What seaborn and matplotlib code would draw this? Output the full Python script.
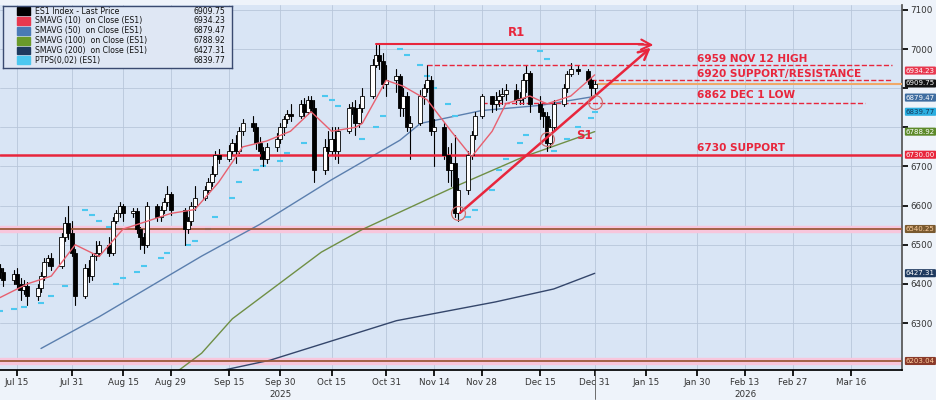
import matplotlib
matplotlib.use("Agg")
import matplotlib.pyplot as plt
import matplotlib.dates as mdates
from matplotlib.patches import Rectangle
import seaborn as sns
import pandas as pd

dates = (["2025-07-%02d" % d for d in [10,11,14,15,16,17,18,21,22,23,24,25,28,29,30,31]] +
         ["2025-08-%02d" % d for d in [1,4,5,6,7,8,11,12,13,14,15,18,19,20,21,22,25,26,27,28,29]] +
         ["2025-09-%02d" % d for d in [2,3,4,5,8,9,10,11,12,15,16,17,18,19,22,23,24,25,26,29,30]] +
         ["2025-10-%02d" % d for d in [1,2,3,6,7,8,9,10,13,14,15,16,17,20,21,22,23,24,27,28,29,30,31]] +
         ["2025-11-%02d" % d for d in [3,4,5,6,7,10,11,12,13,14,17,18,19,20,21,24,25,26,28]] +
         ["2025-12-%02d" % d for d in [1,2,3,4,5,8,9,10,11,12,15,16,17,18,19,22,23,24,26,29,30,31]])
first_open = 6440
close = [6430,6410,6425,6400,6385,6395,6370,6390,6420,6455,6465,6445,6520,6555,6530,6480,
         6370,6440,6420,6470,6480,6500,6480,6560,6580,6600,6580,6585,6540,6520,6500,6600,6570,6590,6610,6630,6590,
         6540,6560,6600,6620,6640,6660,6680,6730,6720,6740,6760,6740,6790,6810,6800,6760,6740,6720,6750,6770,6800,
         6820,6835,6830,6860,6840,6870,6850,6690,6750,6740,6770,6740,6790,6850,6850,6810,6850,6880,6960,6985,6970,6910,6920,
         6930,6850,6880,6800,6810,6880,6900,6920,6790,6800,6730,6690,6710,6580,6640,6730,6780,6830,6880,
         6860,6870,6880,6885,6895,6870,6875,6920,6940,6860,6840,6830,6760,6800,6860,6900,6935,6950,6945,6920,6900,6910]
high = [6450,6440,6435,6440,6415,6410,6405,6400,6430,6465,6475,6480,6530,6570,6600,6560,
        6490,6450,6460,6480,6510,6510,6520,6570,6590,6610,6605,6595,6595,6545,6530,6610,6605,6600,6620,6650,6635,
        6595,6570,6610,6650,6650,6670,6700,6740,6745,6755,6770,6780,6800,6820,6830,6810,6775,6750,6760,6785,6810,
        6830,6845,6860,6870,6875,6880,6880,6870,6770,6790,6800,6800,6800,6860,6865,6870,6860,6900,6975,7010,7015,6990,6960,
        6950,6935,6900,6890,6830,6895,6910,6960,6930,6820,6810,6750,6760,6780,6670,6740,6790,6840,6885,
        6880,6890,6895,6900,6910,6910,6890,6935,6960,6945,6880,6850,6840,6820,6870,6910,6945,6965,6960,6950,6925,6920]
low = [6415,6395,6400,6390,6360,6375,6345,6360,6380,6410,6445,6435,6440,6510,6515,6470,
       6345,6365,6405,6410,6460,6470,6470,6475,6555,6570,6560,6570,6530,6490,6480,6495,6560,6560,6580,6600,6575,
       6500,6530,6550,6590,6615,6630,6650,6675,6710,6715,6730,6710,6735,6780,6790,6745,6720,6700,6710,6740,6760,
       6780,6810,6815,6825,6830,6835,6840,6660,6680,6690,6730,6720,6710,6785,6835,6780,6800,6840,6875,6955,6950,6900,6880,
       6890,6830,6830,6790,6720,6805,6860,6890,6780,6700,6720,6660,6650,6570,6560,6630,6720,6770,6825,
       6840,6845,6855,6860,6870,6860,6860,6860,6890,6840,6820,6800,6740,6750,6790,6855,6890,6930,6935,6910,6880,6880]

sma10_dates = ["2025-07-10","2025-07-18","2025-07-25","2025-08-01","2025-08-08","2025-08-15","2025-08-22","2025-08-29",
               "2025-09-05","2025-09-12","2025-09-19","2025-09-26","2025-10-03","2025-10-09","2025-10-15","2025-10-22",
               "2025-10-24","2025-10-31","2025-11-05","2025-11-12","2025-11-19","2025-11-25","2025-12-01","2025-12-05",
               "2025-12-12","2025-12-17","2025-12-24","2025-12-31"]
sma10 = [6365,6400,6420,6500,6470,6540,6560,6580,6590,6660,6750,6765,6790,6840,6790,6800,
         6810,6920,6905,6870,6790,6725,6790,6860,6880,6860,6880,6934]
sma50_dates = ["2025-07-22","2025-08-08","2025-09-07","2025-09-24","2025-10-15","2025-11-04","2025-11-10","2025-11-28","2025-12-15","2025-12-31"]
sma50 = [6235,6316,6471,6552,6666,6767,6810,6843,6856,6879]
sma100_dates = ["2025-08-29","2025-09-07","2025-09-16","2025-10-12","2025-10-24","2025-11-20","2025-12-10","2025-12-31"]
sma100 = [6164,6223,6311,6481,6539,6648,6724,6789]
sma200_dates = ["2025-09-05","2025-09-27","2025-11-03","2025-12-02","2025-12-19","2025-12-31"]
sma200 = [6164,6205,6306,6354,6387,6427]
ptps_dates = ["2025-07-10","2025-07-14","2025-07-17","2025-07-22","2025-07-25","2025-07-29",
              "2025-08-04","2025-08-06","2025-08-08","2025-08-11",
              "2025-08-13","2025-08-15","2025-08-19","2025-08-21","2025-08-26","2025-08-28",
              "2025-09-03","2025-09-05","2025-09-09","2025-09-11","2025-09-16","2025-09-18","2025-09-23","2025-09-25","2025-09-30","2025-10-02","2025-10-07",
              "2025-10-13","2025-10-15","2025-10-17","2025-10-21",
              "2025-10-24","2025-10-28","2025-10-30",
              "2025-11-04","2025-11-06","2025-11-10","2025-11-12","2025-11-14","2025-11-18","2025-11-20",
              "2025-11-24","2025-11-26","2025-12-01","2025-12-03","2025-12-05","2025-12-09","2025-12-11",
              "2025-12-15","2025-12-17",
              "2025-12-19","2025-12-23","2025-12-26","2025-12-30","2025-12-31"]
ptps = [6330,6335,6340,6350,6370,6395,
        6590,6575,6560,6545,
        6400,6415,6430,6445,6465,6480,
        6500,6510,6540,6570,6620,6660,6690,6700,6715,6735,6760,
        6880,6870,6855,6840,
        6770,6800,6830,
        7000,6985,6960,6930,6900,6860,6830,
        6570,6590,6640,6690,6720,6760,6780,
        6995,6975,
        6740,6770,6800,6825,6840]

level_labels = ["6959 NOV 12 HIGH", "6920 SUPPORT/RESISTANCE", "6862 DEC 1 LOW", "6730 SUPPORT"]
legend_names = ["ES1 Index - Last Price", "SMAVG (10)  on Close (ES1)", "SMAVG (50)  on Close (ES1)",
                "SMAVG (100)  on Close (ES1)", "SMAVG (200)  on Close (ES1)", "PTPS(0,02) (ES1)"]
legend_vals = ["6909.75", "6934.23", "6879.47", "6788.92", "6427.31", "6839.77"]
legend_cols = ["#000000", "#e8384f", "#4a7ab5", "#6a9a2a", "#1f3a5f", "#4cc8f0"]

sns.set_theme(style="whitegrid")
plt.rcParams['font.family'] = ['DejaVu Sans']

fig = plt.figure(figsize=(9.36, 4.0), dpi=100)
fig.patch.set_facecolor("#eef3fa")
ax = fig.add_axes([0.0, 0.075, 0.964, 0.912])
ax.set_facecolor("#d9e5f5")
ax.grid(True, color="#b8c6da", lw=0.6)

d = pd.to_datetime(dates)
dn = mdates.date2num(d)
opens = [first_open] + close[:-1]
for x, o, c, h, l in zip(dn, opens, close, high, low):
    ax.plot([x, x], [l, h], color="black", lw=0.8, zorder=3)
    col = "white" if c >= o else "black"
    ax.add_patch(Rectangle((x - 0.6, min(o, c)), 1.2, max(abs(c - o), 2), facecolor=col,
                           edgecolor="black", lw=0.6, zorder=4))

sns.lineplot(x=pd.to_datetime(sma10_dates), y=sma10, ax=ax, color="#e8606f", lw=1.0, zorder=5)
sns.lineplot(x=pd.to_datetime(sma50_dates), y=sma50, ax=ax, color="#5b7fae", lw=1.0, zorder=2)
sns.lineplot(x=pd.to_datetime(sma100_dates), y=sma100, ax=ax, color="#6f8f45", lw=1.0, zorder=2)
sns.lineplot(x=pd.to_datetime(sma200_dates), y=sma200, ax=ax, color="#34466b", lw=1.0, zorder=2)
ax.scatter(pd.to_datetime(ptps_dates), ptps, marker="_", s=25, color="#4cc8f0", lw=1.5, zorder=2)
ax.set_xlabel("")
ax.set_ylabel("")

red = "#e8263c"
ax.axhline(6730, color=red, lw=1.8, zorder=3)
for lv in [6540.25, 6203.04]:
    ax.axhspan(lv - 8, lv + 8, color="#f8c6dc", zorder=1)
    ax.axhline(lv, color="#9b5a3a", lw=1.3, zorder=3)

def dt(s):
    return mdates.date2num(pd.Timestamp(s))

ax.plot([dt("2025-11-12"), dt("2026-03-28")], [6959, 6959], ls="--", color=red, lw=1.0, zorder=3)
ax.plot([dt("2025-12-30"), dt("2026-03-28")], [6920, 6920], ls="--", color=red, lw=1.0, zorder=3)
ax.plot([dt("2025-11-28"), dt("2026-03-20")], [6862, 6862], ls="--", color=red, lw=1.0, zorder=3)
ax.plot([dt("2026-01-01"), dt("2026-03-31")], [6909.75, 6909.75], color="#f0a868", lw=1.5, zorder=3)

ax.plot([dt("2025-10-28"), dt("2026-01-14")], [7013, 7013], color=red, lw=1.5, zorder=6)
ax.annotate("", xy=(dt("2026-01-18"), 7010), xytext=(dt("2026-01-12"), 7012),
            arrowprops=dict(arrowstyle="->", color=red, lw=1.5, mutation_scale=18), zorder=6)
ax.annotate("", xy=(dt("2026-01-17"), 7008), xytext=(dt("2025-11-21"), 6577),
            arrowprops=dict(arrowstyle="->", color=red, lw=1.8, mutation_scale=18), zorder=6)
ax.text(dt("2025-12-08"), 7025, "R1", color=red, fontsize=8.5, fontweight="bold", ha="center", va="bottom")
ax.text(dt("2025-12-28"), 6780, "S1", color=red, fontsize=8.5, fontweight="bold", ha="center", va="center")
for sd, sv in [("2025-11-21", 6580), ("2025-12-17", 6770), ("2025-12-31", 6865)]:
    ax.plot(dt(sd), sv, marker="o", ms=10, mfc="none", mec="#d07070", mew=0.9, zorder=6)

tx = dt("2026-01-30")
ax.text(tx, 6975, level_labels[0], color=red, fontsize=7.6, fontweight="bold", va="center")
ax.text(tx, 6935, level_labels[1], color=red, fontsize=7.6, fontweight="bold", va="center")
ax.text(tx, 6882, level_labels[2], color=red, fontsize=7.6, fontweight="bold", va="center")
ax.text(tx, 6747, level_labels[3], color=red, fontsize=7.6, fontweight="bold", va="center")

ax.set_xlim(dt("2025-07-10"), dt("2026-03-31"))
ax.set_ylim(6180, 7112)

ticks = ["2025-07-15","2025-07-31","2025-08-15","2025-08-29","2025-09-15","2025-09-30","2025-10-15",
         "2025-10-31","2025-11-14","2025-11-28","2025-12-15","2025-12-31","2026-01-15","2026-01-30",
         "2026-02-13","2026-02-27","2026-03-16"]
ax.set_xticks([dt(t) for t in ticks])
ax.set_xticklabels([pd.Timestamp(t).strftime("%b %d").replace(" 0", " ") for t in ticks], fontsize=6.3, color="#333")
ax.tick_params(axis="x", length=4, color="black", pad=2, bottom=True)
ax.text(dt("2025-09-30"), -0.075, "2025", transform=ax.get_xaxis_transform(), fontsize=6.3, ha="center", color="#333")
ax.text(dt("2026-02-13"), -0.075, "2026", transform=ax.get_xaxis_transform(), fontsize=6.3, ha="center", color="#333")
ax.plot([dt("2025-12-31")] * 2, [-0.08, 0], transform=ax.get_xaxis_transform(), color="#555", lw=0.6, clip_on=False)

ax.yaxis.tick_right()
yt = list(range(6300, 7101, 100))
ax.set_yticks(yt)
ax.set_yticklabels(["" if v in (6800, 6900) else str(v) for v in yt], fontsize=6.3, color="#333")
ax.tick_params(axis="y", length=4, color="black", pad=2, right=True)
for s in ["top", "left"]:
    ax.spines[s].set_visible(False)
ax.spines["bottom"].set_color("black")
ax.spines["right"].set_color("#555")

tags = [(6934.23, "#e8384f", "white"), (6909.75, "#111111", "white"), (6879.47, "#3f6da0", "white"),
        (6839.77, "#2aaee0", "#14385a"), (6788.92, "#5d8a2a", "white"), (6730.00, "#e8263c", "white"),
        (6540.25, "#7a5a30", "#ffd0a0"), (6427.31, "#1f3a5f", "white"), (6203.04, "#8a3a2a", "#ffd0a0")]
ypos = {6934.23: 6945, 6909.75: 6912, 6879.47: 6876}
for v, bg, fg in tags:
    ax.text(1.004, ypos.get(v, v), "%.2f" % v, transform=ax.get_yaxis_transform(), fontsize=5.0,
            color=fg, va="center", ha="left", bbox=dict(boxstyle="round,pad=0.15", fc=bg, ec="none"), clip_on=False)

lg = fig.add_axes([0.003, 0.83, 0.245, 0.155])
lg.set_xlim(0, 1); lg.set_ylim(0, 6)
lg.set_facecolor("#dfe7f4")
for s in lg.spines.values():
    s.set_color("#3a4a70"); s.set_linewidth(1.0)
lg.set_xticks([]); lg.set_yticks([]); lg.grid(False)
for i, (n, v, c) in enumerate(zip(legend_names, legend_vals, legend_cols)):
    yy = 5.5 - i * 0.95
    lg.add_patch(Rectangle((0.06, yy - 0.38), 0.06, 0.76, color=c))
    lg.text(0.14, yy, n, fontsize=5.6, va="center", color="#111")
    lg.text(0.97, yy, v, fontsize=5.6, va="center", ha="right", color="#111")

fig.savefig("out.png", dpi=100, facecolor=fig.get_facecolor())
